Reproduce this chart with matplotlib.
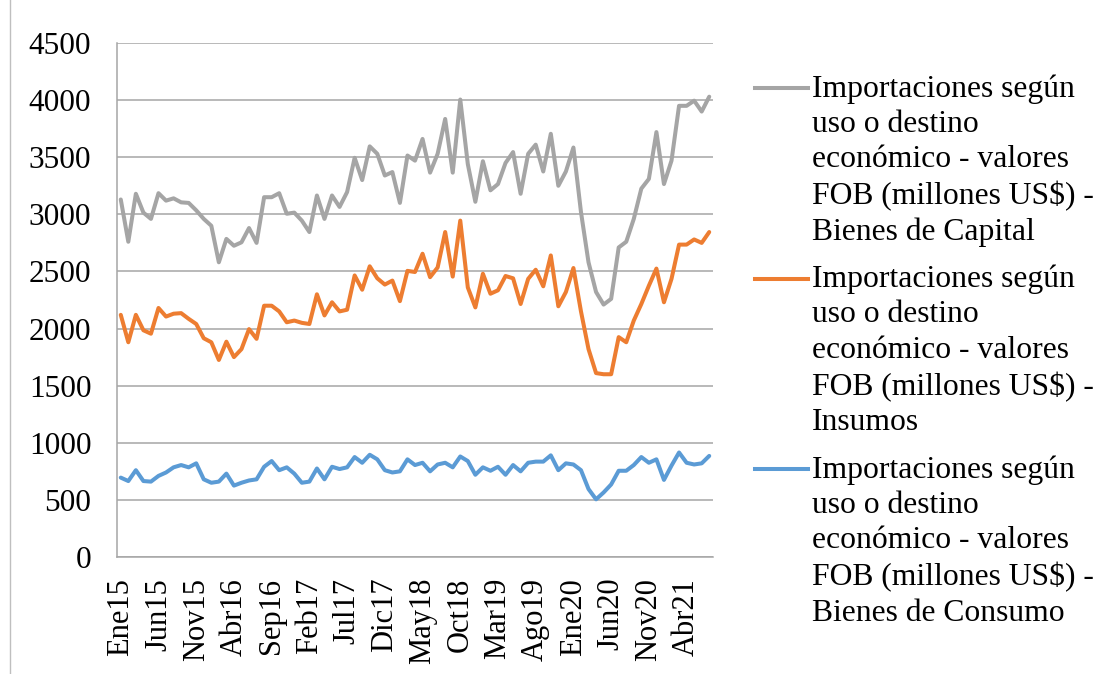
import numpy as np
import matplotlib
matplotlib.use("Agg")
import matplotlib.pyplot as plt
from matplotlib.lines import Line2D

plt.rcParams['font.family'] = ['Liberation Serif', 'DejaVu Serif']

# monthly data Ene15 .. Jul21
meses = ['Ene', 'Feb', 'Mar', 'Abr', 'May', 'Jun', 'Jul', 'Ago', 'Sep', 'Oct', 'Nov', 'Dic']
fechas = [m + str(a) for a in range(15, 22) for m in meses][:79]

capital = [3130, 2760, 3180, 3015, 2960, 3185, 3120, 3140, 3105, 3100, 3035, 2960, 2900,
           2580, 2785, 2725, 2755, 2880, 2750, 3150, 3150, 3185, 3005, 3015, 2945, 2845,
           3165, 2960, 3165, 3065, 3195, 3495, 3300, 3595, 3530, 3340, 3370, 3100, 3515,
           3470, 3660, 3365, 3530, 3835, 3365, 4005, 3440, 3110, 3465, 3210, 3265, 3450,
           3545, 3180, 3530, 3610, 3375, 3705, 3250, 3375, 3585, 3020, 2580, 2320, 2210,
           2260, 2710, 2760, 2960, 3225, 3310, 3720, 3265, 3470, 3950, 3950, 3995, 3900,
           4030]

insumos = [2120, 1880, 2120, 1985, 1955, 2180, 2105, 2130, 2135, 2085, 2040, 1915, 1880,
           1725, 1885, 1750, 1820, 1995, 1910, 2200, 2200, 2150, 2055, 2070, 2050, 2040,
           2300, 2115, 2230, 2150, 2165, 2465, 2340, 2545, 2440, 2385, 2420, 2240, 2505,
           2495, 2655, 2450, 2535, 2845, 2455, 2945, 2360, 2185, 2480, 2305, 2335, 2460,
           2440, 2215, 2435, 2515, 2370, 2640, 2195, 2320, 2530, 2150, 1820, 1610, 1600,
           1600, 1925, 1880, 2070, 2215, 2375, 2525, 2230, 2435, 2735, 2735, 2780, 2750,
           2845]

consumo = [695, 665, 760, 665, 660, 710, 740, 785, 805, 785, 820, 680, 650,
           660, 730, 625, 650, 670, 680, 790, 840, 760, 785, 730, 650, 660,
           775, 680, 790, 770, 785, 875, 825, 895, 855, 760, 740, 750, 855,
           805, 825, 750, 810, 825, 785, 880, 840, 720, 785, 755, 790, 720,
           805, 750, 825, 835, 835, 890, 760, 820, 810, 760, 595, 505, 565,
           635, 755, 755, 805, 875, 825, 855, 675, 800, 915, 825, 810, 820,
           885]

etiquetas = [
    'Importaciones según\nuso o destino\neconómico - valores\nFOB (millones US$) -\nBienes de Capital',
    'Importaciones según\nuso o destino\neconómico - valores\nFOB (millones US$) -\nInsumos',
    'Importaciones según\nuso o destino\neconómico - valores\nFOB (millones US$) -\nBienes de Consumo',
]
colores = ['#a5a5a5', '#ed7d31', '#5b9bd5']

fig = plt.figure(figsize=(11.1, 6.74), dpi=100)
ax = fig.add_axes([117 / 1110, 1 - 557 / 674, (713 - 117) / 1110, (557 - 43) / 674])

x = np.arange(len(fechas))
for serie, c in zip([capital, insumos, consumo], colores):
    ax.plot(x, serie, color=c, lw=2.9, solid_joinstyle='round', solid_capstyle='round')

ax.set_xlim(-0.5, len(fechas) - 0.5)
ax.set_ylim(0, 4500)
ax.set_yticks(np.arange(0, 4501, 500))
ax.set_xticks(x[::5])
ax.set_xticklabels(fechas[::5], rotation=90, fontsize=22)
ax.tick_params(axis='y', labelsize=22.5, length=0, pad=18.5)
ax.tick_params(axis='x', length=0, pad=15)
ax.grid(axis='y', color='#a6a6a6', lw=1.1)
ax.set_axisbelow(True)
for s in ['top', 'right']:
    ax.spines[s].set_visible(False)
for s in ['left', 'bottom']:
    ax.spines[s].set_color('#a6a6a6')
    ax.spines[s].set_linewidth(1.1)

# legend drawn by hand so the handle sits on the first text line
y0 = 1 - 88 / 674
paso = 190.5 / 674
for k, (txt, c) in enumerate(zip(etiquetas, colores)):
    yy = y0 - k * paso
    fig.add_artist(Line2D([755 / 1110, 808 / 1110], [yy, yy], color=c, lw=2.9,
                          transform=fig.transFigure))
    fig.text(812 / 1110, yy + 14 / 674, txt, fontsize=22.8, va='top', ha='left',
             linespacing=1.29, parse_math=False)

# chart area border (left edge visible)
fig.add_artist(Line2D([10 / 1110, 10 / 1110], [0, 1], color='#bfbfbf', lw=1,
                      transform=fig.transFigure))

fig.savefig('out.png', dpi=100)
